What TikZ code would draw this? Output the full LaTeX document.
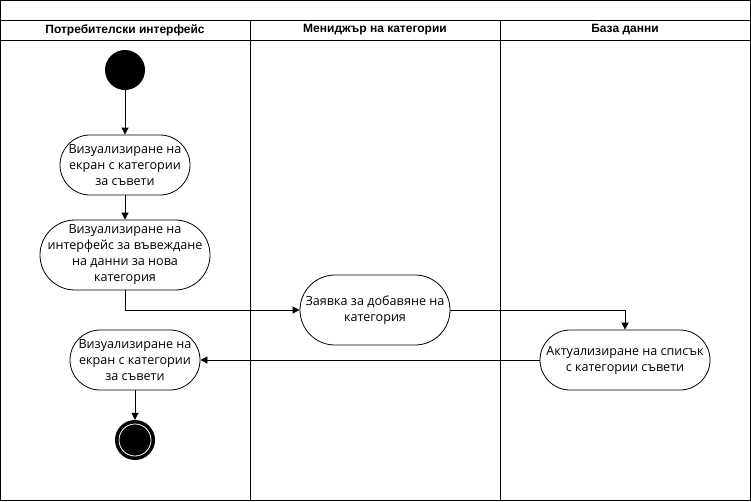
\documentclass[tikz,border=0pt]{standalone}
\usepackage{fontspec}
\setmainfont{Open Sans}
\newfontfamily\hdrfont{Liberation Sans}
\usetikzlibrary{arrows.meta}
\begin{document}
\begin{tikzpicture}[x=1pt,y=-1pt,
  lane/.style={draw=black,line width=0.8pt},
  hdr/.style={font=\hdrfont\bfseries\fontsize{12}{14}\selectfont},
  act/.style 2 args={draw=black,line width=0.8pt,rectangle,align=center,inner sep=0pt,
     minimum width=#1,minimum height=#2,rounded corners=0.5*#2,font=\fontsize{12.6}{16}\selectfont},
  flow/.style={draw=black,line width=0.8pt,-{Triangle[length=7pt,width=7pt]}}]
\useasboundingbox (0,0) rectangle (751,501);
% frame
\draw[lane] (0.5,0.5) rectangle (750.5,500.5);
\draw[lane] (0.5,20) -- (750.5,20);
\draw[lane] (0.5,40) -- (750.5,40);
\draw[lane] (250,20) -- (250,500.5);
\draw[lane] (500,20) -- (500,500.5);
\node[hdr] (h1) at (125,30) {Потребителски интерфейс};
\node[hdr] (h2) at (375,30) {Мениджър на категории};
\node[hdr] (h3) at (625,30) {База данни};
% nodes
\node[circle,fill=black,minimum size=40pt,inner sep=0pt] (start) at (125,70) {};
\node[act={130pt}{60pt}] (a1) at (125,165) {Визуализиране на\\екран с категории\\за съвети};
\node[act={170pt}{70pt}] (a2) at (125,255) {Визуализиране на\\интерфейс за въвеждане\\на данни за нова\\категория};
\node[act={150pt}{70pt}] (a3) at (375,310) {Заявка за добавяне на\\категория};
\node[act={170pt}{60pt}] (a4) at (625,360) {Актуализиране на списък\\с категории съвети};
\node[act={130pt}{60pt}] (a5) at (135,360) {Визуализиране на\\екран с категории\\за съвети};
\node[circle,fill=black,minimum size=40pt,inner sep=0pt] (end) at (135,440) {};
\draw[white,line width=0.8pt] (end.center) circle (16pt);
% connectors
\draw[flow] (start) -- (a1);
\draw[flow] (a1) -- (a2);
\draw[flow] (a2.south) |- (a3.west);
\draw[flow] (a3.east) -| (a4.north);
\draw[flow] (a4.west) -- (a5.east);
\draw[flow] (a5.south) -- (end.north);
\end{tikzpicture}
\end{document}
